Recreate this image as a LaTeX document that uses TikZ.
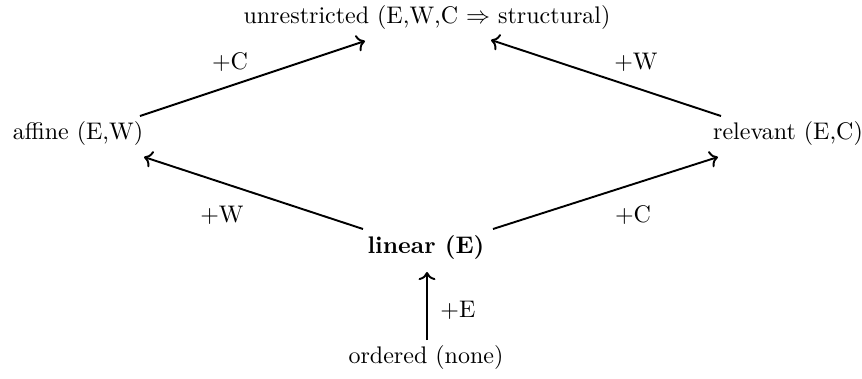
\documentclass[tikz,border=0pt]{standalone}
\usepackage{amsmath}
\usepackage{amssymb}
\usetikzlibrary{arrows.meta,positioning}

\begin{document}
\begin{tikzpicture}[
    x=0.4167pt, y=-0.4167pt,
    every node/.style={inner sep=2pt},
    level/.style={},
    step label/.style={},
    edge/.style={->, thick}
]
\useasboundingbox (0,0) rectangle (862,379);

% Substructural systems
\node[level] (unrestricted) at (427,18) {unrestricted (E,W,C $\Rightarrow$ structural)};
\node[level] (affine) at (78,134) {affine (E,W)};
\node[level] (relevant) at (788,134) {relevant (E,C)};
\node[level] (linear) at (426,247) {\textbf{linear (E)}};
\node[level] (ordered) at (426,357) {ordered (none)};

% Rule labels
\node[step label] (lblAC) at (230,62) {$+$C};
\node[step label] (lblRW) at (636,62) {$+$W};
\node[step label] (lblLW) at (222,215) {$+$W};
\node[step label] (lblLC) at (633,215) {$+$C};
\node[step label] (lblOE) at (458,310) {$+$E};

% Connections
\draw[edge] ([shift={(62,-18)}]affine.center) -- ([shift={(-62,23)}]unrestricted.center);
\draw[edge] ([shift={(-67,-18)}]relevant.center) -- ([shift={(64,22)}]unrestricted.center);
\draw[edge] ([shift={(-63,-18)}]linear.center) -- ([shift={(66,23)}]affine.center);
\draw[edge] ([shift={(67,-18)}]linear.center) -- ([shift={(-70,23)}]relevant.center);
\draw[edge] ([shift={(1,-17)}]ordered.center) -- ([shift={(1,25)}]linear.center);

\end{tikzpicture}
\end{document}
